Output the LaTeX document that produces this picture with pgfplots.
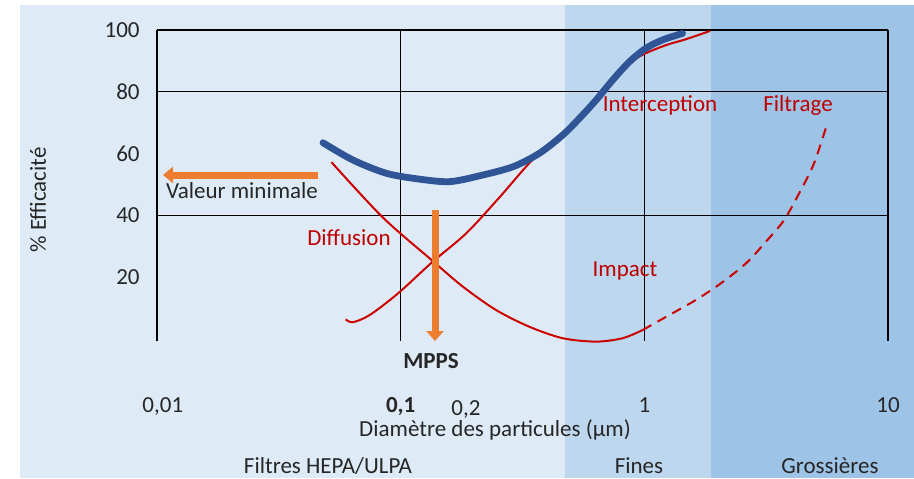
\documentclass[border=0pt]{standalone}
\usepackage{fontspec}
\setmainfont{Carlito}
\usepackage{pgfplots}
\pgfplotsset{compat=1.18}
\usetikzlibrary{arrows.meta}
\definecolor{bgA}{HTML}{DEEBF7}
\definecolor{bgB}{HTML}{BDD7EE}
\definecolor{bgC}{HTML}{9DC3E6}
\definecolor{cblue}{HTML}{2F5597}
\definecolor{cred}{HTML}{CC0000}
\definecolor{tred}{HTML}{C00000}
\definecolor{corange}{HTML}{ED7D31}
\definecolor{tgray}{HTML}{262626}
\begin{document}
\fontsize{11.5}{14}\selectfont
\begin{tikzpicture}
\useasboundingbox (0,0) rectangle (457pt,239pt);
\begin{scope}[x=0.5pt,y=0.5pt]
\fill[white] (0,0) rectangle (914,478);
\fill[bgA] (20,0) rectangle (914,473);
\fill[bgB] (565,0) rectangle (711,473);
\fill[bgC] (711,0) rectangle (914,473);
\end{scope}
\begin{axis}[
  at={(78.5pt,68.5pt)}, anchor=south west,
  scale only axis, width=365.5pt, height=155.5pt,
  xmode=log, xmin=0.01, xmax=10, ymin=-0.7, ymax=100,
  clip=false,
  axis line style={draw=none},
  tick style={draw=none},
  major tick length=0pt, minor tick length=0pt,
  xtick={0.01,0.1,1,10},
  xticklabels={{\hphantom{0}0,01},{\bfseries 0,1},1,10},
  minor xtick={},
  xmajorgrids=true,
  ytick={20,40,60,80,100},
  yticklabels={20,40,60,80,100},
  extra y ticks={40,80,100},
  extra y tick labels={},
  extra y tick style={ymajorgrids=true},
  extra x ticks={0.2},
  extra x tick labels={0{,}2},
  extra x tick style={xmajorgrids=false, xticklabel style={yshift=-1.5pt, xshift=-4pt}},
  grid style={black, line width=0.6pt},
  xticklabel style={anchor=base, yshift=-35.85pt, text=tgray},
  yticklabel style={anchor=east, inner sep=0pt, xshift=-8.5pt, text=tgray},
  xlabel={Diamètre des particules (µm)},
  xlabel style={at={(axis description cs:0.4624,0)}, anchor=base, yshift=-47.85pt, text=tgray},
  ylabel={\% Efficacité},
  ylabel style={at={(axis description cs:-0.1628,0.4534)}, anchor=center, text=tgray},
]
% Diffusion
\addplot[cred, line width=1pt, smooth] coordinates {
(0.052,57.2) (0.0845,39.3) (0.135,25.3) (0.180,16.9) (0.2467,9.3) (0.3378,3.9) (0.4625,0.2) (0.6339,-0.9) (0.8147,0.2) (0.984,2.85)};
% Impact / Filtrage (dashed)
\addplot[cred, line width=1pt, smooth, dash pattern=on 5pt off 3.5pt] coordinates {
(0.984,2.85) (1.265,7.7) (1.629,12.6) (2.063,18.0) (2.61,24.4) (3.15,31.4) (3.75,38.5) (4.39,48.2) (4.97,56.8) (5.64,69.8)};
% Interception
\addplot[cred, line width=1pt, smooth] coordinates {
(0.0595,6.3) (0.0637,5.4) (0.0746,7.7) (0.0975,14.7) (0.135,24.9) (0.186,34.2) (0.255,45.9) (0.3475,57.9) (0.4625,65.3) (0.6339,76.8) (0.7415,83.0) (0.868,88.9) (0.984,92.0) (1.227,95.1) (1.48,97.0) (1.863,99.7)};
% Total efficiency
\addplot[cblue, line width=3.4pt, smooth, line cap=round] coordinates {
(0.048,63.5) (0.0637,57.9) (0.0874,53.6) (0.1196,51.7) (0.1588,50.9) (0.211,52.8) (0.2885,55.7) (0.3712,60.1) (0.4625,66.0) (0.5416,71.4) (0.6339,77.3) (0.7415,83.8) (0.868,89.7) (1.016,94.1) (1.189,96.8) (1.435,98.9)};
\end{axis}
\begin{scope}[x=0.5pt,y=0.5pt]
\draw[corange, line width=3.5pt, -{Triangle[width=8pt,length=5pt]}] (318,303) -- (163,303);
\draw[corange, line width=3.5pt, -{Triangle[width=8.5pt,length=5pt]}] (435,268) -- (435,137);
\node[anchor=base, text=tgray] at (242,280) {Valeur minimale};
\node[anchor=base, text=tred] at (349,233) {Diffusion};
\node[anchor=base, text=tred] at (660,367) {Interception};
\node[anchor=base, text=tred] at (798,367) {Filtrage};
\node[anchor=base, text=tred] at (625,202) {Impact};
\node[anchor=base, text=tgray, font=\bfseries] at (431,110) {MPPS};
\node[anchor=base, text=tgray] at (328,5) {Filtres HEPA/ULPA};
\node[anchor=base, text=tgray] at (639,5) {Fines};
\node[anchor=base, text=tgray] at (830,5) {Grossières};
\end{scope}
\end{tikzpicture}
\end{document}
